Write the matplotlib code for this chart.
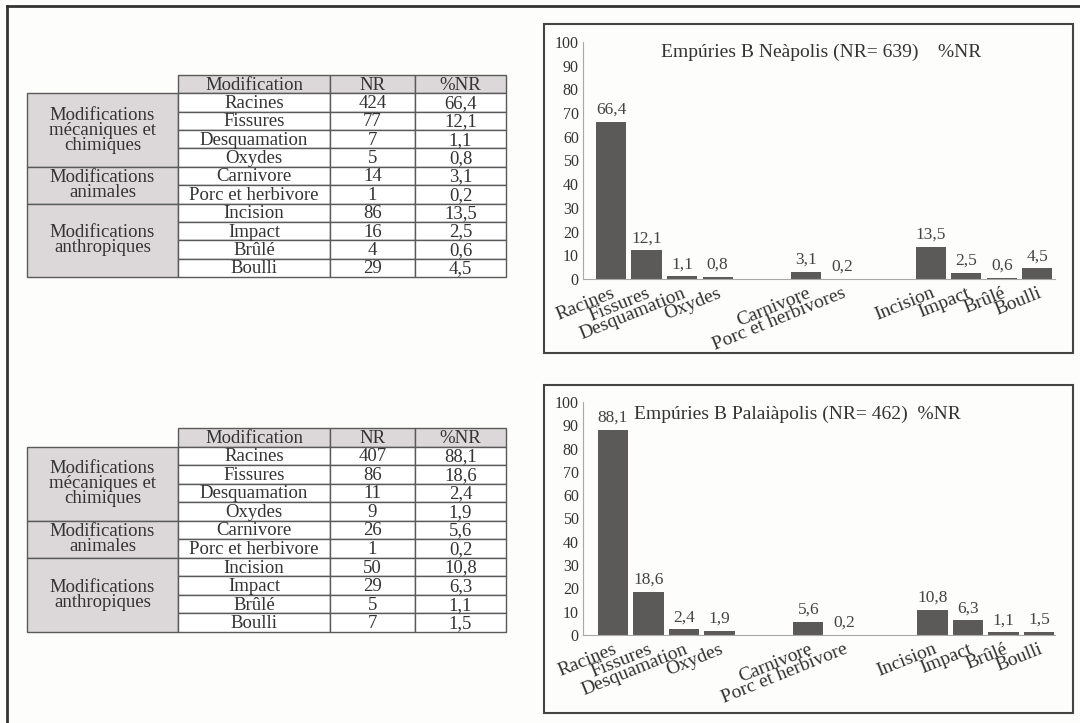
import matplotlib
matplotlib.use('Agg')
import matplotlib.pyplot as plt
from matplotlib.patches import Rectangle
from matplotlib.lines import Line2D

plt.rcParams['font.family'] = ['Liberation Serif', 'DejaVu Serif']

# données des tableaux
groupes = ['Modifications\nmécaniques et\nchimiques', 'Modifications\nanimales', 'Modifications\nanthropiques']
taille_groupes = [4, 2, 4]
modifications = ['Racines', 'Fissures', 'Desquamation', 'Oxydes', 'Carnivore',
                 'Porc et herbivore', 'Incision', 'Impact', 'Brûlé', 'Boulli']
entetes = ['Modification', 'NR', '%NR']

neapolis_nr = [424, 77, 7, 5, 14, 1, 86, 16, 4, 29]
neapolis_pct = [66.4, 12.1, 1.1, 0.8, 3.1, 0.2, 13.5, 2.5, 0.6, 4.5]
palaiapolis_nr = [407, 86, 11, 9, 26, 1, 50, 29, 5, 7]
palaiapolis_pct = [88.1, 18.6, 2.4, 1.9, 5.6, 0.2, 10.8, 6.3, 1.1, 1.5]

# étiquettes des graphiques
etiq_neapolis = ['Racines', 'Fissures', 'Desquamation', 'Oxydes', 'Carnivore',
                 'Porc et herbivores', 'Incision', 'Impact', 'Brûlé', 'Boulli']
etiq_palaiapolis = modifications
titre_neapolis = 'Empúries B Neàpolis (NR= 639)    %NR'
titre_palaiapolis = 'Empúries B Palaiàpolis (NR= 462)  %NR'

W, H = 1080, 723
gris_clair = '#dcd8da'
gris_barre = '#5b5a58'
trait = '#5a5a5a'
texte = '#333333'


def rect(x0, y0, x1, y1):
    # pixels -> coordonnées figure
    return [x0 / W, 1 - y1 / H, (x1 - x0) / W, (y1 - y0) / H]


def fmt(v):
    return f'{v:.1f}'.replace('.', ',')


fig = plt.figure(figsize=(10.8, 7.23), dpi=100, facecolor='#fdfdfb')

# cadre extérieur
fig.add_artist(Line2D([7 / W, 7 / W], [0, 1 - 6 / H], color='#333333', lw=2, transform=fig.transFigure))
fig.add_artist(Line2D([7 / W, 1], [1 - 6 / H, 1 - 6 / H], color='#333333', lw=2, transform=fig.transFigure))


def tableau(y0, y1, nr, pct):
    ax = fig.add_axes(rect(27, y0, 506, y1))
    cols = [0, 151, 303, 388, 479]
    ax.set_xlim(0, cols[-1])
    ax.set_ylim(11, 0)
    ax.axis('off')
    for j, t in enumerate(entetes):
        ax.add_patch(Rectangle((cols[j + 1], 0), cols[j + 2] - cols[j + 1], 1,
                               fc=gris_clair, ec=trait, lw=1, clip_on=False))
        ax.text((cols[j + 1] + cols[j + 2]) / 2, 0.55, t, ha='center', va='center',
                fontsize=13.5, color=texte)
    r = 1
    for g, n in zip(groupes, taille_groupes):
        ax.add_patch(Rectangle((0, r), cols[1], n, fc=gris_clair, ec=trait, lw=1, clip_on=False))
        ax.text(cols[1] / 2, r + n / 2, g, ha='center', va='center', fontsize=13.5,
                color=texte, linespacing=0.85)
        r += n
    for i in range(len(modifications)):
        vals = [modifications[i], str(nr[i]), fmt(pct[i])]
        for j, v in enumerate(vals):
            ax.add_patch(Rectangle((cols[j + 1], 1 + i), cols[j + 2] - cols[j + 1], 1,
                                   fc='white', ec=trait, lw=1, clip_on=False))
            ax.text((cols[j + 1] + cols[j + 2]) / 2, 1 + i + 0.55, v, ha='center',
                    va='center', fontsize=13.5, color=texte)


def graphique(cadre, zone, xlim, titre, titre_xy, etiquettes, pct):
    x0, y0, x1, y1 = cadre
    fig.add_artist(Rectangle((x0 / W, 1 - y1 / H), (x1 - x0) / W, (y1 - y0) / H,
                             fill=False, ec='#444444', lw=1.5, transform=fig.transFigure))
    ax = fig.add_axes(rect(*zone))
    ax.set_facecolor('none')
    # positions : groupes séparés par un espace
    pos = []
    p = 0
    for n in taille_groupes:
        for _ in range(n):
            pos.append(p)
            p += 1
        p += 1.5
    bars = ax.bar(pos, pct, width=0.85, color=gris_barre)
    ax.bar_label(bars, labels=[fmt(v) for v in pct], padding=3, fontsize=12.5, color='#444444')
    ax.set_ylim(0, 100)
    ax.set_xlim(*xlim)
    ax.set_yticks(range(0, 101, 10))
    ax.set_xticks(pos)
    ax.set_xticklabels(etiquettes, rotation=22, ha='right', rotation_mode='anchor',
                       fontsize=14, color=texte)
    ax.tick_params(axis='y', length=0, pad=3, labelsize=11.5, labelcolor=texte)
    ax.tick_params(axis='x', length=0, pad=4)
    for s in ['top', 'right']:
        ax.spines[s].set_visible(False)
    for s in ['left', 'bottom']:
        ax.spines[s].set_color('#a8a8a8')
    fig.text(titre_xy[0] / W, 1 - titre_xy[1] / H, titre, ha='center', va='center',
             fontsize=14, color=texte)


tableau(75, 277, neapolis_nr, neapolis_pct)
tableau(428, 632, palaiapolis_nr, palaiapolis_pct)

graphique((544, 24, 1073, 353), (583, 42, 1055, 279), (-0.79, 12.5),
          titre_neapolis, (821, 52), etiq_neapolis, neapolis_pct)
graphique((544, 385, 1073, 713), (583, 402, 1055, 635), (-0.845, 12.45),
          titre_palaiapolis, (797, 414), etiq_palaiapolis, palaiapolis_pct)

fig.savefig('out.png', dpi=100, facecolor=fig.get_facecolor())
